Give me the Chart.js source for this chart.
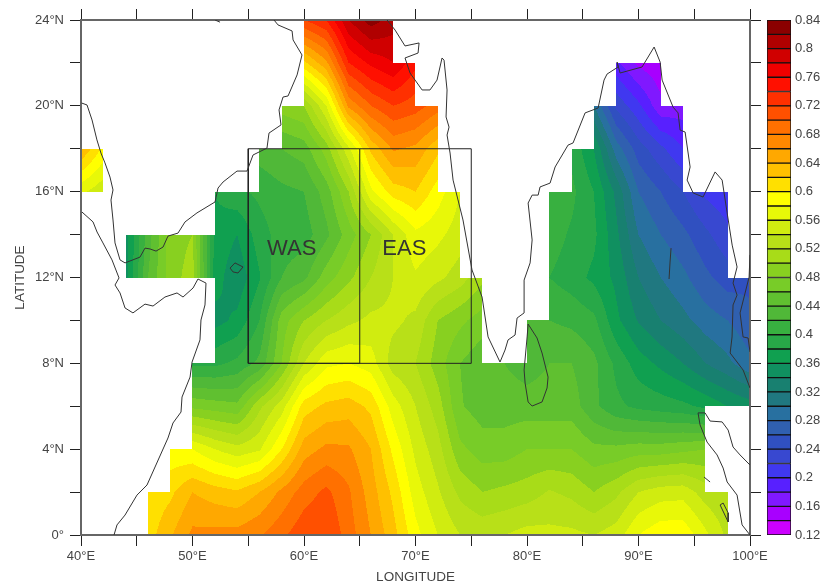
<!DOCTYPE html>
<html>
<head>
<meta charset="utf-8">
<title>Arabian Sea / Bay of Bengal map</title>
<script src="https://cdn.jsdelivr.net/npm/chart.js@4"></script>
<style>
    html, body { margin: 0; padding: 0; background: #fff; overflow: hidden; }
    #map { position: absolute; left: 0; top: 0; }
    #bar { position: absolute; left: 760px; top: 0; }
</style>
</head>
<body>
<canvas id="map" width="826" height="585"></canvas>
<canvas id="bar" width="66" height="585"></canvas>
<script>
// ========== Data ==========

const _ = null;

// grid nodes every 2 degrees, lon 40..100 (31 columns)
const lat24 = [_,_,_,_,_,_,_,_,_,_,.72,.74,.80,.83,.81,_,_,_,_,_,_,_,_,_,_,_,_,_,_,_,_];
const lat22 = [_,_,_,_,_,_,_,_,_,_,.615,.655,.74,.765,.78,.745,_,_,_,_,_,_,_,_,.185,.155,.145,_,_,_,_];
const lat20 = [_,_,_,_,_,_,_,_,_,.49,.50,.56,.665,.70,.72,.71,.69,_,_,_,_,_,_,.30,.235,.205,.165,.17,_,_,_];
const lat18 = [.64,.595,_,_,_,_,_,_,.43,.44,.45,.49,.555,.625,.663,.655,.625,_,_,_,_,_,.395,.36,.29,.25,.225,.20,_,_,_];
const lat16 = [.565,.545,_,_,_,_,.38,.395,.405,.415,.42,.45,.50,.575,.61,.62,.59,.56,_,_,_,.415,.405,.38,.335,.28,.26,.24,.215,.205,_];
const lat14 = [_,_,.35,.43,.49,.50,.375,.36,.39,.41,.41,.435,.47,.50,.54,.575,.565,.55,_,_,_,.41,.397,.385,.345,.30,.28,.265,.245,.225,_];
const lat12 = [_,_,.35,.44,.49,.51,.37,.345,.378,.42,.435,.47,.495,.52,.54,.557,.545,.53,.505,_,_,.40,.39,.375,.355,.32,.30,.285,.265,.25,.255];
const lat10 = [_,_,_,_,_,_,.352,.365,.40,.47,.50,.52,.535,.545,.545,.535,.50,.485,.47,_,.42,.42,.415,.405,.365,.338,.32,.306,.29,.28,.265];
const lat8  = [_,_,_,_,_,.395,.395,.405,.425,.48,.54,.575,.58,.57,.53,.52,.49,.46,.445,.44,.43,.44,.44,.425,.395,.37,.355,.34,.32,.305,.285];
const lat6  = [_,_,_,_,_,.475,.47,.465,.515,.55,.61,.625,.63,.615,.57,.54,.51,.462,.45,.45,.45,.45,.45,.425,.405,.395,.39,.385,.375,.36,.35];
const lat4  = [_,_,_,_,.585,.58,.56,.547,.557,.60,.65,.665,.663,.64,.595,.555,.528,.485,.47,.47,.48,.48,.48,.465,.465,.47,.47,.475,.48,_,_];
const lat2  = [_,_,_,.605,.615,.64,.63,.623,.64,.665,.69,.705,.683,.65,.615,.57,.543,.515,.50,.505,.51,.522,.515,.50,.515,.54,.55,.552,.53,.52,_];
const lat0  = [_,_,_,.61,.637,.665,.667,.668,.678,.695,.715,.72,.69,.66,.628,.587,.56,.54,.535,.54,.548,.546,.545,.54,.55,.58,.595,.595,.565,.535,_];

const gridRows = [lat0, lat2, lat4, lat6, lat8, lat10, lat12, lat14, lat16, lat18, lat20, lat22, lat24];

// contour levels: 0.12 .. 0.84 in 0.02 steps, one colour per band, low to high
const levelStart = 0.12;
const levelStep = 0.02;
const levelColors = [
    '#cc00ff', '#a800ff', '#8018ff', '#5820ff', '#4038f0', '#3848d0',
    '#3050c0', '#3060b0', '#2870a0', '#207880', '#188070', '#109060',
    '#10a050', '#28a848', '#38b040', '#50b838', '#60c030', '#78cc28',
    '#88d020', '#a8dc18', '#b8e018', '#d0ec10', '#e8f808', '#ffff00',
    '#ffe000', '#ffc000', '#ffa800', '#ff8800', '#ff7000', '#ff5000',
    '#ff3000', '#ff1000', '#f00000', '#d00000', '#b00000', '#8b0000'
];

const barTicks = [0.12, 0.16, 0.2, 0.24, 0.28, 0.32, 0.36, 0.4, 0.44, 0.48, 0.52, 0.56, 0.6, 0.64, 0.68, 0.72, 0.76, 0.8, 0.84];
const lonLabels = { 40: '40°E', 50: '50°E', 60: '60°E', 70: '70°E', 80: '80°E', 90: '90°E', 100: '100°E' };
const latLabels = { 0: '0°', 4: '4°N', 8: '8°N', 12: '12°N', 16: '16°N', 20: '20°N', 24: '24°N' };

// coastlines, lon and lat
const arabiaLon = [40.06,40.54,40.99,41.43,41.79,42.15,42.60,42.87,42.69,42.87,43.05,43.50,43.95,45.29,45.74,46.19,46.73,47.36,47.80,48.70,49.33,50.40,52.02,52.29,52.74,53.99,54.89,55.43,56.68,56.86,57.94,57.76,58.12,58.57,59.38,59.82,59.02,58.93,57.67,57.31];
const arabiaLat = [20.13,20.04,19.34,18.41,17.80,17.34,16.68,16.08,15.61,14.68,13.61,12.82,12.68,12.95,13.37,13.33,13.23,13.42,13.93,14.07,14.59,15.01,15.52,16.17,16.45,16.96,16.96,17.71,18.03,18.73,19.11,19.81,20.41,20.46,21.44,22.37,23.07,23.49,23.77,24];

const indiaLon = [67.45,68.17,69.06,70.32,70.23,69.06,69.51,70.59,71.30,71.93,72.38,72.56,72.83,72.74,73.01,72.83,73.10,73.37,74.26,75.07,75.97,76.51,77.58,78.03,78.30,78.93,79.11,79.74,79.74,80.28,80.46,80.10,80.46,81.0,81.17,82.07,82.52,83.68,84.13,85.21,86.38,86.91,87.18,88.17,88.08,88.35,90.32,91.40,91.94,92.12,93.10,93.55,93.73,94.18,94.63,94.36,94.90,95.79,96.87,97.50,97.95,98.40,98.84,98.48,98.84,98.48,98.39,98.22,98.84,99.38,100];
const indiaLat = [24,23.53,22.79,22.93,22.46,22.23,21.53,20.74,20.74,21.20,22.23,22.13,20.74,19.48,19.01,18.64,17.80,16.54,14.68,12.35,11.09,9.23,8.06,8.62,9.09,9.32,10.11,10.35,11.88,12.68,13.75,15.47,15.84,15.84,16.22,16.40,17.15,18.17,18.27,19.67,19.90,21.20,21.48,21.81,22.04,21.53,21.81,22.74,22.04,21.20,19.94,19.67,18.87,18.78,17.15,16.54,15.94,15.75,16.92,16.54,15.01,13.51,12.49,11.74,11.18,10.72,9.23,8.48,8.06,7.69,6.85];

const africaLon = [40.09,41.08,41.44,41.97,42.78,43.41,43.05,43.50,43.95,44.66,45.74,46.46,47.53,48.61,49.15,50.05,50.49,51.21,51.12,50.76,50.67,49.96,49.78,49.06,48.97,48.25,47.80,45.92,45.02,43.95,43.23,42.96];
const africaLat = [15.05,14.59,14.12,13.61,12.82,11.98,11.65,11.28,10.58,10.35,10.76,10.67,11.09,11.28,11.09,11.51,11.93,11.74,10.72,10.02,9.09,8.06,7.36,6.43,5.73,5.22,4.52,2.33,1.86,0.93,0.47,0];

const sriLankaLon = [80.10,80.90,81.35,81.89,81.80,81.35,80.46,80.10,79.83,79.74,80.01,80.10];
const sriLankaLat = [9.83,9.18,8.48,7.36,6.85,6.20,6.01,6.20,7.08,7.69,9.23,9.83];

const socotraLon = [53.37,53.81,54.53,54.08,53.63,53.37];
const socotraLat = [12.44,12.68,12.49,12.21,12.26,12.44];

const andamanLon = [92.92,92.83,92.74];
const andamanLat = [13.37,12.72,11.93];

const sumatraNLon = [95.34,95.97,96.42,97.50,98.04,98.48,99.11,100];
const sumatraNLat = [5.69,5.69,5.31,5.27,4.89,4.10,3.73,3.26];

const sumatraWLon = [95.34,95.52,96.15,97.05,97.59,97.95,98.84,99.29,100];
const sumatraWLat = [5.69,5.13,4.33,3.73,3.12,2.47,1.86,0.47,0];

const simeulueLon = [95.88,96.42];
const simeulueLat = [2.70,2.47];

const niasLon = [97.32,97.59,98.04,98.04,97.32];
const niasLat = [1.40,1.49,1.03,0.61,1.40];

const malayLon = [100,99.92,99.11,99.38,99.83,100];
const malayLat = [13.05,12.02,10.35,9.23,9.18,8.53];

const gulfLon = [52.02,52.47];
const gulfLat = [24,23.9];

const coasts = [
    [arabiaLon, arabiaLat], [indiaLon, indiaLat], [africaLon, africaLat],
    [sriLankaLon, sriLankaLat], [socotraLon, socotraLat], [andamanLon, andamanLat],
    [sumatraNLon, sumatraNLat], [sumatraWLon, sumatraWLat], [simeulueLon, simeulueLat],
    [niasLon, niasLat], [malayLon, malayLat], [gulfLon, gulfLat]
];

// the WAS and EAS boxes
const boxLon = [55, 65, 65, 55, 55, 75, 75, 65];
const boxLat = [8, 8, 18, 18, 8, 8, 18, 18];
const regionNames = ['WAS', 'EAS'];
const regionLon = [58.9, 69];
const regionLat = [13.35, 13.35];

// ========== Helpers ==========

function hexToRgb(hex) {
    return [1, 3, 5].map(i => parseInt(hex.substr(i, 2), 16));
}

function toPoints(lons, lats) {
    return lons.map((lon, i) => ({ x: lon, y: lats[i] }));
}

// bilinear value of the 2 degree grid, null where a corner is missing
function gridValue(lon, lat) {
    const i = Math.min(Math.floor((lon - 40) / 2), 29);
    const j = Math.min(Math.floor(lat / 2), 11);
    if (i < 0 || j < 0) return null;
    const a = gridRows[j][i], b = gridRows[j][i + 1];
    const c = gridRows[j + 1][i], d = gridRows[j + 1][i + 1];
    if (a === null || b === null || c === null || d === null) return null;
    const u = (lon - 40) / 2 - i;
    const v = lat / 2 - j;
    return (a * (1 - u) + b * u) * (1 - v) + (c * (1 - u) + d * u) * v;
}

// ========== Plugins ==========

const rgbLevels = levelColors.map(hexToRgb);

// paints the filled contours under the axes
const contourPlugin = {
    id: 'contour',
    beforeDraw(chart) {
        const area = chart.chartArea;
        const xs = chart.scales.x, ys = chart.scales.y;
        const left = Math.round(area.left), top = Math.round(area.top);
        const w = Math.round(area.right) - left, h = Math.round(area.bottom) - top;
        const img = chart.ctx.createImageData(w, h);
        for (let py = 0; py < h; py++) {
            const lat = ys.getValueForPixel(top + py + 0.5);
            for (let px = 0; px < w; px++) {
                const val = gridValue(xs.getValueForPixel(left + px + 0.5), lat);
                if (val === null) continue;
                const k = Math.floor((val - levelStart) / levelStep);
                const rgb = rgbLevels[Math.max(0, Math.min(levelColors.length - 1, k))];
                const p = (py * w + px) * 4;
                img.data[p] = rgb[0];
                img.data[p + 1] = rgb[1];
                img.data[p + 2] = rgb[2];
                img.data[p + 3] = 255;
            }
        }
        chart.ctx.putImageData(img, left, top);
    }
};

// WAS / EAS names, on top of everything
const regionPlugin = {
    id: 'regions',
    afterDatasetsDraw(chart) {
        const ctx = chart.ctx;
        ctx.save();
        ctx.font = '22px "Liberation Sans"';
        ctx.fillStyle = '#333';
        ctx.textAlign = 'center';
        ctx.textBaseline = 'middle';
        regionNames.forEach((name, i) => {
            ctx.fillText(name, chart.scales.x.getPixelForValue(regionLon[i]), chart.scales.y.getPixelForValue(regionLat[i]));
        });
        ctx.restore();
    }
};

// ========== Charts ==========

const tickFont = { family: 'Liberation Sans', size: 13 };
const titleFont = { family: 'Liberation Sans', size: 13.5 };

function frameScale(position, min, max, step, size) {
    return {
        type: 'linear',
        position: position,
        min: min,
        max: max,
        ticks: { display: false, stepSize: step, autoSkip: false },
        grid: { drawOnChartArea: false, tickLength: 11, color: '#222', tickColor: '#222' },
        border: { color: '#666', width: 2 },
        afterFit(scale) {
            if (scale.isHorizontal()) scale.height = size;
            else scale.width = size;
        }
    };
}

function initMap() {
    const datasets = coasts.map(c => ({
        data: toPoints(c[0], c[1]),
        showLine: true,
        pointRadius: 0,
        borderColor: '#333',
        borderWidth: 1,
        tension: 0
    }));
    datasets.push({
        data: toPoints(boxLon, boxLat),
        showLine: true,
        pointRadius: 0,
        borderColor: '#222',
        borderWidth: 1,
        tension: 0
    });

    const x = frameScale('bottom', 40, 100, 5, 50);
    x.ticks = {
        stepSize: 5,
        autoSkip: false,
        maxRotation: 0,
        font: tickFont,
        color: '#444',
        padding: 3,
        callback: v => lonLabels[v] || ''
    };
    x.title = { display: true, text: 'LONGITUDE', font: titleFont, color: '#444', padding: { top: 4, bottom: 0 } };

    const y = frameScale('left', 0, 24, 2, 81);
    y.ticks = {
        stepSize: 2,
        autoSkip: false,
        font: tickFont,
        color: '#444',
        padding: 6,
        callback: v => (latLabels[v] !== undefined ? latLabels[v] : '')
    };
    y.title = { display: true, text: 'LATITUDE', font: titleFont, color: '#444', padding: { top: 12, bottom: 0 } };

    new Chart(document.getElementById('map'), {
        type: 'scatter',
        data: { datasets: datasets },
        options: {
            responsive: false,
            animation: false,
            events: [],
            layout: { padding: { left: 0, right: 65, top: 0, bottom: 0 } },
            plugins: { legend: { display: false }, tooltip: { enabled: false } },
            scales: {
                x: x,
                y: y,
                xTop: frameScale('top', 40, 100, 5, 20),
                yRight: frameScale('right', 0, 24, 2, 11)
            }
        },
        plugins: [contourPlugin, regionPlugin]
    });
}

function initColorBar() {
    const datasets = levelColors.map((color, i) => ({
        data: [[levelStart + i * levelStep, levelStart + (i + 1) * levelStep]],
        backgroundColor: color,
        borderColor: '#111',
        borderWidth: 1,
        borderSkipped: false,
        barPercentage: 1,
        categoryPercentage: 1,
        grouped: false
    }));

    new Chart(document.getElementById('bar'), {
        type: 'bar',
        data: { labels: [''], datasets: datasets },
        options: {
            responsive: false,
            animation: false,
            events: [],
            layout: { padding: { left: 7, right: 0, top: 20, bottom: 50 } },
            plugins: { legend: { display: false }, tooltip: { enabled: false } },
            scales: {
                x: { display: false },
                y: {
                    position: 'right',
                    min: barTicks[0],
                    max: barTicks[barTicks.length - 1],
                    afterBuildTicks(scale) {
                        scale.ticks = barTicks.map(v => ({ value: v }));
                    },
                    ticks: {
                        font: tickFont,
                        color: '#444',
                        padding: 4,
                        autoSkip: false,
                        callback: v => String(+v.toFixed(2))
                    },
                    grid: { display: false, drawTicks: false },
                    border: { display: false },
                    afterFit(scale) { scale.width = 35; }
                }
            }
        }
    });
}

initMap();
initColorBar();
</script>
</body>
</html>
